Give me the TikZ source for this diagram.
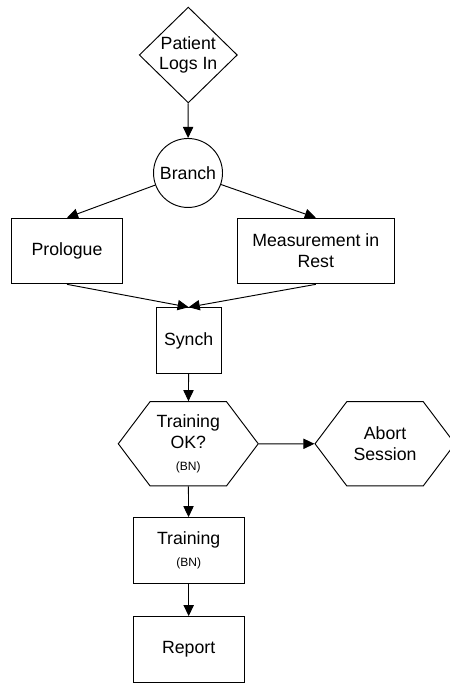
\documentclass[tikz,border=0pt]{standalone}
\usepackage{fontspec}
\setmainfont{Liberation Sans}
\usetikzlibrary{shapes.geometric,shapes.symbols,arrows.meta}

\begin{document}
\begin{tikzpicture}[line width=0.6pt, >={Triangle[length=7pt,width=6.5pt]},
  font=\fontsize{11.2}{13.1}\selectfont,
  box/.style={draw, rectangle, minimum height=1.46cm, align=center, inner sep=0pt},
  hexa/.style={draw, signal, signal to=east and west, signal pointer angle=106,
    minimum width=3.11cm, minimum height=1.87cm, align=center, inner sep=0pt},
  bn/.style={font=\fontsize{7.6}{9}\selectfont}]
\useasboundingbox (0,0) rectangle (10,-15.178);

%top
\node[draw, diamond, minimum width=2.18cm, minimum height=2.13cm, inner sep=0pt, align=center] (login) at (4.184, -1.222) {Patient\\Logs In};
\node[draw, circle, minimum size=1.533cm, inner sep=0pt] (branch) at (4.178, -3.844) {Branch};

\node[box, minimum width=2.46cm] (prologue) at (1.489, -5.578) {Prologue};
\node[box, minimum width=3.49cm] (measure) at (7.018, -5.578) {Measurement in\\Rest};
\node[box, minimum width=1.44cm] (synch) at (4.193, -7.567) {Synch};

%decision
\node[hexa] (trainok) at (4.184, -9.862) {Training\\OK?\\[1pt]{\fontsize{7.6}{9}\selectfont (BN)}};
\node[hexa] (abort) at (8.556, -9.862) {Abort\\Session};

%bottom
\node[box, minimum width=2.46cm] (training) at (4.193, -12.233) {Training\\[1pt]{\fontsize{7.6}{9}\selectfont (BN)}};
\node[box, minimum width=2.46cm] (report) at (4.193, -14.433) {Report};

%arrows
\draw[->] (login) -- (branch);
\draw[->] (branch) -- (prologue.north);
\draw[->] (branch) -- (measure.north);
\draw[->] (prologue.south) -- (synch.north);
\draw[->] (measure.south) -- (synch.north);
\draw[->] (synch) -- (trainok);
\draw[->] (trainok) -- (abort);
\draw[->] (trainok) -- (training);
\draw[->] (training) -- (report);
\end{tikzpicture}
\end{document}
